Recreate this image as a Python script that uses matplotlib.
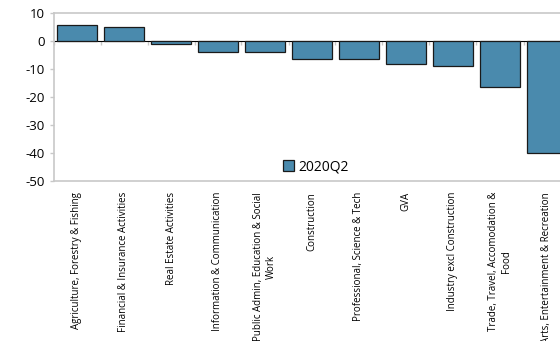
import numpy as np
import matplotlib
matplotlib.use("Agg")
import matplotlib.pyplot as plt

categories = [
    "Agriculture, Forestry & Fishing",
    "Financial & Insurance Activities",
    "Real Estate Activities",
    "Information & Communication",
    "Public Admin, Education & Social\nWork",
    "Construction",
    "Professional, Science & Tech",
    "GVA",
    "Industry excl Construction",
    "Trade, Travel, Accomodation &\nFood",
    "Arts, Entertainment & Recreation",
]
values_2020q2 = [5.6, 5.1, -1.2, -4.0, -4.0, -6.3, -6.5, -8.1, -9.0, -16.3, -40.0]
series_name = "2020Q2"
y_ticks = [10, 0, -10, -20, -30, -40, -50]

W, H = 560, 341
fig = plt.figure(figsize=(W / 100, H / 100), dpi=100)
plt.rcParams["font.family"] = ["Open Sans", "DejaVu Sans"]

grey = "#c8c8c8"
bar_color = "#4a8aad"

left_px, right_px, top_px, bottom_px = 53.5, 570.5, 13, 181
ax = fig.add_axes([left_px / W, 1 - bottom_px / H,
                   (right_px - left_px) / W, (bottom_px - top_px) / H])

x = np.arange(len(categories))
ax.bar(x, values_2020q2, width=0.83, color=bar_color, edgecolor="#1a1a1a",
       linewidth=0.9, label=series_name, zorder=3)

ax.set_xlim(-0.5, len(categories) - 0.5)
ax.set_ylim(min(y_ticks), max(y_ticks))
ax.set_yticks(y_ticks)
ax.set_yticklabels([str(v) for v in y_ticks], fontsize=9.5)
ax.tick_params(axis="y", length=3, color=grey, width=1, pad=3)

# category labels below the plot
ax.set_xticks(x)
ax.set_xticklabels(categories, rotation=90, fontsize=7,
                   ha="center", va="top", multialignment="center")
ax.tick_params(axis="x", length=0, pad=8)

for s in ["left", "top", "bottom"]:
    ax.spines[s].set_color(grey)
    ax.spines[s].set_linewidth(1.2)
ax.spines["right"].set_visible(False)

# category axis drawn along the zero line
zero_frac = (0 - min(y_ticks)) / (max(y_ticks) - min(y_ticks))
sec = ax.secondary_xaxis(zero_frac)
sec.set_xticks(np.arange(len(categories) + 1) - 0.5)
sec.set_xticklabels([])
sec.tick_params(axis="x", direction="in", length=3, color=grey, width=1)
sec.spines["bottom"].set_color("#a0a0a0")
sec.spines["bottom"].set_linewidth(1.2)

ax.legend(loc="center", bbox_to_anchor=((316 - left_px) / (right_px - left_px), 0.083),
          frameon=False, fontsize=10, handlelength=0.8, handleheight=0.8,
          handletextpad=0.3, borderaxespad=0)

fig.savefig("out.png", dpi=100)
